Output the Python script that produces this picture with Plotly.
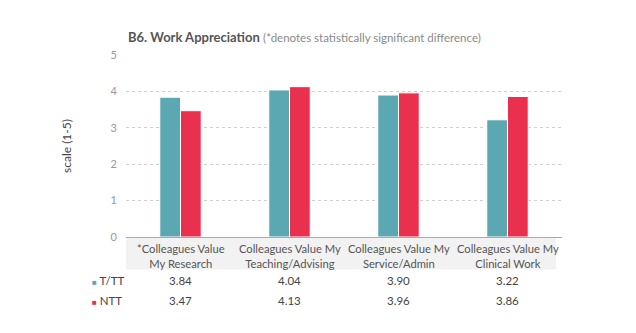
import plotly.graph_objects as go

categories = ["*Colleagues Value<br>My Research", "Colleagues Value My<br>Teaching/Advising",
              "Colleagues Value My<br>Service/Admin", "Colleagues Value My<br>Clinical Work"]
series_names = ["T/TT", "NTT"]
ttt = [3.84, 4.04, 3.90, 3.22]
ntt = [3.47, 4.13, 3.96, 3.86]
colors = ["#5BA7B2", "#E9304F"]
FONT = "Lato"

fig = go.Figure()
for name, vals, c in zip(series_names, [ttt, ntt], colors):
    fig.add_bar(x=categories, y=vals, name=name, marker=dict(color=c, line=dict(color="white", width=1)))

fig.update_layout(
    width=636, height=333, margin=dict(l=126, r=74, t=55, b=96),
    paper_bgcolor="white", plot_bgcolor="white", showlegend=False,
    barmode="group", bargap=0.62, bargroupgap=0.0,
    font=dict(family=FONT, color="#555"),
)
fig.update_yaxes(range=[0, 5], tickvals=[0, 1, 2, 3, 4, 5], showgrid=True, gridcolor="#CFCFCF",
                 griddash="3px,3px", gridwidth=1, zeroline=False, tickfont=dict(size=11, color="#999"),
                 ticks="", ticklabelstandoff=8,
                 title=dict(text="scale (1-5)", font=dict(size=12, color="#444"), standoff=36))
fig.update_xaxes(showline=True, linecolor="#AAAAAA", linewidth=1, showticklabels=False, ticks="")

# gray band behind category labels
fig.add_shape(type="rect", xref="x domain", yref="paper", x0=0, x1=0.986, y0=-0.0, y1=-0.178,
              fillcolor="#F2F2F2", line=dict(width=0), layer="below")

for i, cat in enumerate(categories):
    fig.add_annotation(x=cat, y=-0.018, xref="x", yref="paper", text=cat, showarrow=False,
                       yanchor="top", font=dict(size=11.2, color="#555"))
    for j, vals in enumerate([ttt, ntt]):
        fig.add_annotation(x=cat, y=-0.24 - j * 0.11, xref="x", yref="paper", text=f"{vals[i]:.2f}",
                           showarrow=False, yanchor="middle", font=dict(size=11.5, color="#444"))

for j, (name, c) in enumerate(zip(series_names, colors)):
    fig.add_annotation(x=-0.083, y=-0.24 - j * 0.11, xref="paper", yref="paper",
                       text=f"<span style='color:{c};font-size:8px'>■</span> {name}",
                       showarrow=False, xanchor="left", yanchor="middle", font=dict(size=11.5, color="#444"))

fig.add_annotation(x=0, y=1.1, xref="paper", yref="paper", xanchor="left", yanchor="middle", showarrow=False,
                   text="<b>B6. Work Appreciation</b> <span style='color:#8a8a8a;font-size:11.5px'>(*denotes statistically significant difference)</span>",
                   font=dict(size=13, color="#555"))

fig.write_html("out.html")
